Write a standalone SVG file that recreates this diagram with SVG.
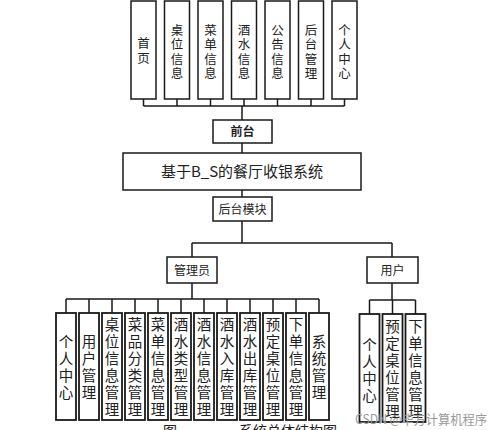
<svg xmlns="http://www.w3.org/2000/svg" width="499" height="430" viewBox="0 0 499 430">
<style>
.box{fill:#fff;stroke:#1a1a1a;stroke-width:1.5}
.leaf{fill:#fff;stroke:#1a1a1a;stroke-width:1.8}
.ln{fill:none;stroke:#1a1a1a;stroke-width:1.5}
.t{font-family:"Noto Sans CJK SC","Noto Sans",sans-serif;fill:#222;text-anchor:middle}
.top{font-size:12.5px}
.lf{font-size:14.5px}
.mid{font-size:12px}
.title{font-size:15px}
.wm{font-family:"Noto Sans CJK SC","Liberation Sans",sans-serif;font-size:13px;fill:#9a9a9a}
</style>
<rect width="499" height="430" fill="#fff"/>
<g id="connectors">
<path class="ln" d="M143.5,99V106M177,99V106M210.5,99V106M244,99V106M277.5,99V106M311,99V106M344.5,99V106M143.5,106H344.5M242,106V120"/>
<path class="ln" d="M242,143V153M242,190V197M242,221V243M192,243H392M192,243V257M392,243V257"/>
<path class="ln" d="M192,283V299M66,299H319M66,299V313M89,299V313M112,299V313M135,299V313M158,299V313M181,299V313M204,299V313M227,299V313M250,299V313M273,299V313M296,299V313M319,299V313"/>
<path class="ln" d="M392,283V300M369.5,300H415.5M369.5,300V314M392.5,300V314M415.5,300V314"/>
</g>
<g id="top-nodes">
<g id="n-home"><rect class="box" x="131" y="1" width="25" height="98"/><text class="t top"><tspan x="143.5" y="48">首</tspan><tspan x="143.5" y="62.5">页</tspan></text></g>
<g id="n-table"><rect class="box" x="164.5" y="1" width="25" height="98"/><text class="t top"><tspan x="177" y="34.5">桌</tspan><tspan x="177" y="49">位</tspan><tspan x="177" y="63.5">信</tspan><tspan x="177" y="78">息</tspan></text></g>
<g id="n-menu"><rect class="box" x="198" y="1" width="25" height="98"/><text class="t top"><tspan x="210.5" y="34.5">菜</tspan><tspan x="210.5" y="49">单</tspan><tspan x="210.5" y="63.5">信</tspan><tspan x="210.5" y="78">息</tspan></text></g>
<g id="n-drink"><rect class="box" x="231.5" y="1" width="25" height="98"/><text class="t top"><tspan x="244" y="34.5">酒</tspan><tspan x="244" y="49">水</tspan><tspan x="244" y="63.5">信</tspan><tspan x="244" y="78">息</tspan></text></g>
<g id="n-notice"><rect class="box" x="265" y="1" width="25" height="98"/><text class="t top"><tspan x="277.5" y="34.5">公</tspan><tspan x="277.5" y="49">告</tspan><tspan x="277.5" y="63.5">信</tspan><tspan x="277.5" y="78">息</tspan></text></g>
<g id="n-backend"><rect class="box" x="298.5" y="1" width="25" height="98"/><text class="t top"><tspan x="311" y="34.5">后</tspan><tspan x="311" y="49">台</tspan><tspan x="311" y="63.5">管</tspan><tspan x="311" y="78">理</tspan></text></g>
<g id="n-personal"><rect class="box" x="332" y="1" width="25" height="98"/><text class="t top"><tspan x="344.5" y="34.5">个</tspan><tspan x="344.5" y="49">人</tspan><tspan x="344.5" y="63.5">中</tspan><tspan x="344.5" y="78">心</tspan></text></g>
</g>
<g id="n-front"><rect class="box" x="213" y="120" width="59" height="23"/><text class="t mid" x="242.5" y="136" font-weight="bold">前台</text></g>
<g id="n-system"><rect class="box" x="123" y="153" width="238" height="37"/><text class="t title" x="242" y="177">基于B_S的餐厅收银系统</text></g>
<g id="n-backmod"><rect class="box" x="213" y="197" width="59" height="24"/><text class="t mid" x="242.5" y="213.5">后台模块</text></g>
<g id="n-admin"><rect class="box" x="167" y="257" width="50" height="26"/><text class="t mid" x="192" y="274.5">管理员</text></g>
<g id="n-user"><rect class="box" x="367" y="257" width="51" height="26"/><text class="t mid" x="392.5" y="274.5">用户</text></g>
<g id="admin-leaves">
<g id="a1"><rect class="leaf" x="56" y="313" width="20" height="107"/><text class="t lf"><tspan x="66" y="347">个</tspan><tspan x="66" y="364">人</tspan><tspan x="66" y="381">中</tspan><tspan x="66" y="398">心</tspan></text></g>
<g id="a2"><rect class="leaf" x="79" y="313" width="20" height="107"/><text class="t lf"><tspan x="89" y="347">用</tspan><tspan x="89" y="364">户</tspan><tspan x="89" y="381">管</tspan><tspan x="89" y="398">理</tspan></text></g>
<g id="a3"><rect class="leaf" x="102" y="313" width="20" height="107"/><text class="t lf"><tspan x="112" y="330">桌</tspan><tspan x="112" y="347">位</tspan><tspan x="112" y="364">信</tspan><tspan x="112" y="381">息</tspan><tspan x="112" y="398">管</tspan><tspan x="112" y="415">理</tspan></text></g>
<g id="a4"><rect class="leaf" x="125" y="313" width="20" height="107"/><text class="t lf"><tspan x="135" y="330">菜</tspan><tspan x="135" y="347">品</tspan><tspan x="135" y="364">分</tspan><tspan x="135" y="381">类</tspan><tspan x="135" y="398">管</tspan><tspan x="135" y="415">理</tspan></text></g>
<g id="a5"><rect class="leaf" x="148" y="313" width="20" height="107"/><text class="t lf"><tspan x="158" y="330">菜</tspan><tspan x="158" y="347">单</tspan><tspan x="158" y="364">信</tspan><tspan x="158" y="381">息</tspan><tspan x="158" y="398">管</tspan><tspan x="158" y="415">理</tspan></text></g>
<g id="a6"><rect class="leaf" x="171" y="313" width="20" height="107"/><text class="t lf"><tspan x="181" y="330">酒</tspan><tspan x="181" y="347">水</tspan><tspan x="181" y="364">类</tspan><tspan x="181" y="381">型</tspan><tspan x="181" y="398">管</tspan><tspan x="181" y="415">理</tspan></text></g>
<g id="a7"><rect class="leaf" x="194" y="313" width="20" height="107"/><text class="t lf"><tspan x="204" y="330">酒</tspan><tspan x="204" y="347">水</tspan><tspan x="204" y="364">信</tspan><tspan x="204" y="381">息</tspan><tspan x="204" y="398">管</tspan><tspan x="204" y="415">理</tspan></text></g>
<g id="a8"><rect class="leaf" x="217" y="313" width="20" height="107"/><text class="t lf"><tspan x="227" y="330">酒</tspan><tspan x="227" y="347">水</tspan><tspan x="227" y="364">入</tspan><tspan x="227" y="381">库</tspan><tspan x="227" y="398">管</tspan><tspan x="227" y="415">理</tspan></text></g>
<g id="a9"><rect class="leaf" x="240" y="313" width="20" height="107"/><text class="t lf"><tspan x="250" y="330">酒</tspan><tspan x="250" y="347">水</tspan><tspan x="250" y="364">出</tspan><tspan x="250" y="381">库</tspan><tspan x="250" y="398">管</tspan><tspan x="250" y="415">理</tspan></text></g>
<g id="a10"><rect class="leaf" x="263" y="313" width="20" height="107"/><text class="t lf"><tspan x="273" y="330">预</tspan><tspan x="273" y="347">定</tspan><tspan x="273" y="364">桌</tspan><tspan x="273" y="381">位</tspan><tspan x="273" y="398">管</tspan><tspan x="273" y="415">理</tspan></text></g>
<g id="a11"><rect class="leaf" x="286" y="313" width="20" height="107"/><text class="t lf"><tspan x="296" y="330">下</tspan><tspan x="296" y="347">单</tspan><tspan x="296" y="364">信</tspan><tspan x="296" y="381">息</tspan><tspan x="296" y="398">管</tspan><tspan x="296" y="415">理</tspan></text></g>
<g id="a12"><rect class="leaf" x="309" y="313" width="20" height="107"/><text class="t lf"><tspan x="319" y="347">系</tspan><tspan x="319" y="364">统</tspan><tspan x="319" y="381">管</tspan><tspan x="319" y="398">理</tspan></text></g>
</g>
<g id="user-leaves">
<g id="u1"><rect class="leaf" x="359.5" y="314" width="20" height="108"/><text class="t lf"><tspan x="369.5" y="350">个</tspan><tspan x="369.5" y="367">人</tspan><tspan x="369.5" y="384">中</tspan><tspan x="369.5" y="401">心</tspan></text></g>
<g id="u2"><rect class="leaf" x="382.5" y="314" width="20" height="108"/><text class="t lf"><tspan x="392.5" y="332">预</tspan><tspan x="392.5" y="349">定</tspan><tspan x="392.5" y="366">桌</tspan><tspan x="392.5" y="383">位</tspan><tspan x="392.5" y="400">管</tspan><tspan x="392.5" y="417">理</tspan></text></g>
<g id="u3"><rect class="leaf" x="405.5" y="314" width="20" height="108"/><text class="t lf"><tspan x="415.5" y="332">下</tspan><tspan x="415.5" y="349">单</tspan><tspan x="415.5" y="366">信</tspan><tspan x="415.5" y="383">息</tspan><tspan x="415.5" y="400">管</tspan><tspan x="415.5" y="417">理</tspan></text></g>
</g>
<g id="caption">
<text class="t" font-size="14" x="170" y="436">图</text>
<text class="t" font-size="14" x="288" y="436">系统总体结构图</text>
</g>
<text class="wm" x="355" y="424" textLength="132" lengthAdjust="spacingAndGlyphs">CSDN @毕方计算机程序</text>
</svg>
